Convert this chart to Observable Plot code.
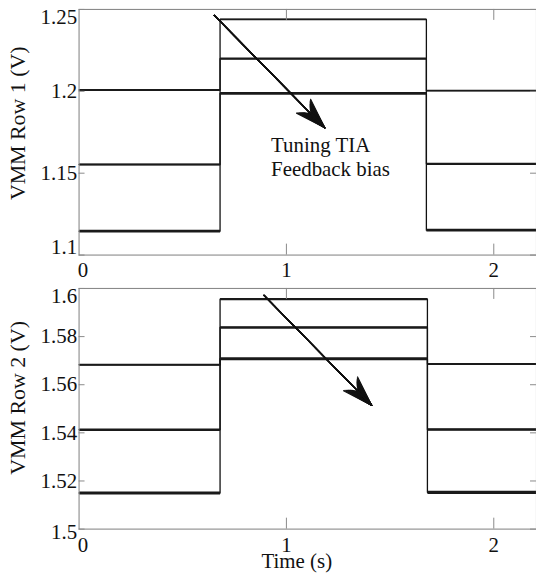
<!DOCTYPE html>
<html><head><meta charset="utf-8">
<script src="https://cdn.jsdelivr.net/npm/d3@7"></script>
<script src="https://cdn.jsdelivr.net/npm/@observablehq/plot@0.6"></script>
<style>
html,body{margin:0;padding:0;background:#fff;overflow:hidden;}
#chart{width:536px;height:577px;overflow:hidden;position:relative;}
#chart svg{display:block;}
#chart svg text{font-family:"Liberation Serif","Times New Roman",serif !important;font-variant:normal !important;}
</style></head><body><div id="chart"></div>
<script>
// ---- data ----
const xTicks = [0, 1, 2];
const xTickLabels = ["0", "1", "2"];
const xMax = 2.206;
const tRise = 0.68;
const tFallRow1 = 1.675;
const tFallRow2 = 1.68;
const seriesNames = ["A", "B", "C"];
const row1Before = [1.1146, 1.1553, 1.2008];
const row1Pulse  = [1.1988, 1.2200, 1.2439];
const row1After  = [1.1152, 1.1557, 1.2004];
const row1Ticks = [1.1, 1.15, 1.2, 1.25];
const row1TickLabels = ["1.1", "1.15", "1.2", "1.25"];
const row2Before = [1.5150, 1.5413, 1.5683];
const row2Pulse  = [1.5708, 1.5838, 1.5956];
const row2After  = [1.5153, 1.5414, 1.5686];
const row2Ticks = [1.5, 1.52, 1.54, 1.56, 1.58, 1.6];
const row2TickLabels = ["1.5", "1.52", "1.54", "1.56", "1.58", "1.6"];
const arrowRow1 = {x1: 0.652, y1: 1.2464, x2: 1.185, y2: 1.1777};
const arrowRow2 = {x1: 0.892, y1: 1.5971, x2: 1.4115, y2: 1.5514};
const annotationText = "Tuning TIA\nFeedback bias";
const annotationPos = {x: 0.926, y: 1.148};
const yLabelRow1 = "VMM Row 1 (V)";
const yLabelRow2 = "VMM Row 2 (V)";
const xLabel = "Time (s)";

// ---- helpers ----
const FONT = "Liberation Serif";
const FRAME = "#8a8a8a";
const W = 539, ML = 79;

function buildPaths(before, pulse, after, tFall) {
  const pts = [];
  seriesNames.forEach((s, i) => {
    pts.push({s, x: 0, y: before[i]});
    pts.push({s, x: tRise, y: before[i]});
    pts.push({s, x: tRise, y: pulse[i]});
    pts.push({s, x: tFall, y: pulse[i]});
    pts.push({s, x: tFall, y: after[i]});
    pts.push({s, x: xMax, y: after[i]});
  });
  return pts;
}
function buildSegs(before, pulse, after, tFall) {
  const segs = [];
  seriesNames.forEach((s, i) => {
    segs.push({s, i, x1: 0, x2: tRise, y: before[i]});
    segs.push({s, i, x1: tRise, x2: tFall, y: pulse[i]});
    segs.push({s, i, x1: tFall, x2: xMax, y: after[i]});
  });
  return segs;
}
function arrowFan(a) {
  const marks = [];
  const N = 14, sw = 1.2;
  for (let k = 0; k <= N; k++) {
    const ang = 36 * k / N;
    const len = 19 + 13 * (k / N);
    marks.push(Plot.arrow([a], {x1: "x1", y1: "y1", x2: "x2", y2: "y2",
      stroke: "#111", strokeWidth: sw, headAngle: ang, headLength: len * 1.5 / sw}));
  }
  return marks;
}

function panel({height, mt, mb, domainY, ticks, tickLabels, before, pulse, after, tFall, widths, arrow, yLabel, yLabelDy, firstDy, lastDy, xLabelDy, withAnnotation, withXLabel}) {
  const ph = height - mt - mb;
  const pw = W - ML;
  const T = {fontFamily: FONT, fontVariant: "normal"};
  const marks = [
    Plot.line(buildPaths(before, pulse, after, tFall), {x: "x", y: "y", z: "s", stroke: "#111", strokeWidth: 1.3}),
  ];
  seriesNames.forEach((s, i) => {
    marks.push(Plot.link(buildSegs(before, pulse, after, tFall).filter(d => d.s === s),
      {x1: "x1", x2: "x2", y1: "y", y2: "y", stroke: "#1a1a1a", strokeWidth: widths[i]}));
  });
  marks.push(
    Plot.frame({stroke: FRAME, strokeWidth: 1.1}),
    Plot.ruleX(xTicks.slice(1), {x: d => d, stroke: FRAME, insetTop: ph - 11}),
    Plot.ruleX(xTicks.slice(1), {x: d => d, stroke: FRAME, insetBottom: ph - 11}),
    Plot.ruleY(ticks, {y: d => d, stroke: FRAME, insetRight: pw - 6}),
    Plot.ruleY(ticks, {y: d => d, stroke: FRAME, insetLeft: pw - 6}),
    Plot.text([0], {...T, x: d => xTicks[d], text: d => xTickLabels[d], frameAnchor: "bottom", dy: xLabelDy, dx: 4, textAnchor: "middle", lineAnchor: "bottom", fontSize: 21}),
    Plot.text([1, 2], {...T, x: d => xTicks[d], text: d => xTickLabels[d], frameAnchor: "bottom", dy: xLabelDy, textAnchor: "middle", lineAnchor: "bottom", fontSize: 21}),
    Plot.text([0], {...T, y: d => ticks[d], text: d => tickLabels[d], frameAnchor: "left", dx: -2, dy: firstDy, textAnchor: "end", lineAnchor: "middle", fontSize: 21}),
    Plot.text(d3.range(1, ticks.length - 1), {...T, y: d => ticks[d], text: d => tickLabels[d], frameAnchor: "left", dx: -2, textAnchor: "end", lineAnchor: "middle", fontSize: 21}),
    Plot.text([ticks.length - 1], {...T, y: d => ticks[d], text: d => tickLabels[d], frameAnchor: "left", dx: -2, dy: lastDy, textAnchor: "end", lineAnchor: "middle", fontSize: 21}),
    Plot.text([yLabel], {...T, text: d => d, frameAnchor: "left", rotate: -90, dx: -61, dy: yLabelDy, textAnchor: "middle", lineAnchor: "middle", fontSize: 22}),
    ...arrowFan(arrow)
  );
  if (withAnnotation) {
    marks.push(Plot.text([annotationPos], {...T, x: "x", y: "y", text: () => annotationText, textAnchor: "start", lineAnchor: "bottom", lineHeight: 1.19, fontSize: 21}));
  }
  if (withXLabel) {
    marks.push(Plot.text([xLabel], {...T, text: d => d, frameAnchor: "bottom", x: () => (298 - ML) / (W - ML) * xMax, dy: 39, textAnchor: "middle", lineAnchor: "bottom", fontSize: 21}));
  }
  return Plot.plot({
    width: W, height,
    marginTop: mt, marginBottom: mb, marginLeft: ML, marginRight: 0,
    x: {domain: [0, xMax], axis: null},
    y: {domain: domainY, axis: null},
    style: {fontFamily: FONT, fontSize: "20px", background: "transparent", color: "#111", overflow: "visible"},
    marks
  });
}

const panelTop = panel({height: 285, mt: 9, mb: 29, domainY: [1.1, 1.25], ticks: row1Ticks, tickLabels: row1TickLabels,
  before: row1Before, pulse: row1Pulse, after: row1After, tFall: tFallRow1, widths: [2.8, 2.2, 1.8],
  arrow: arrowRow1, yLabel: yLabelRow1, yLabelDy: -9, firstDy: -8, lastDy: 8, xLabelDy: 22, withAnnotation: true, withXLabel: false});
const panelBottom = panel({height: 292, mt: 5, mb: 45, domainY: [1.5, 1.6], ticks: row2Ticks, tickLabels: row2TickLabels,
  before: row2Before, pulse: row2Pulse, after: row2After, tFall: tFallRow2, widths: [3.2, 2.6, 2.2],
  arrow: arrowRow2, yLabel: yLabelRow2, yLabelDy: -11, firstDy: 3, lastDy: 8, xLabelDy: 23, withAnnotation: false, withXLabel: true});
document.getElementById("chart").append(panelTop, panelBottom);
</script></body></html>
